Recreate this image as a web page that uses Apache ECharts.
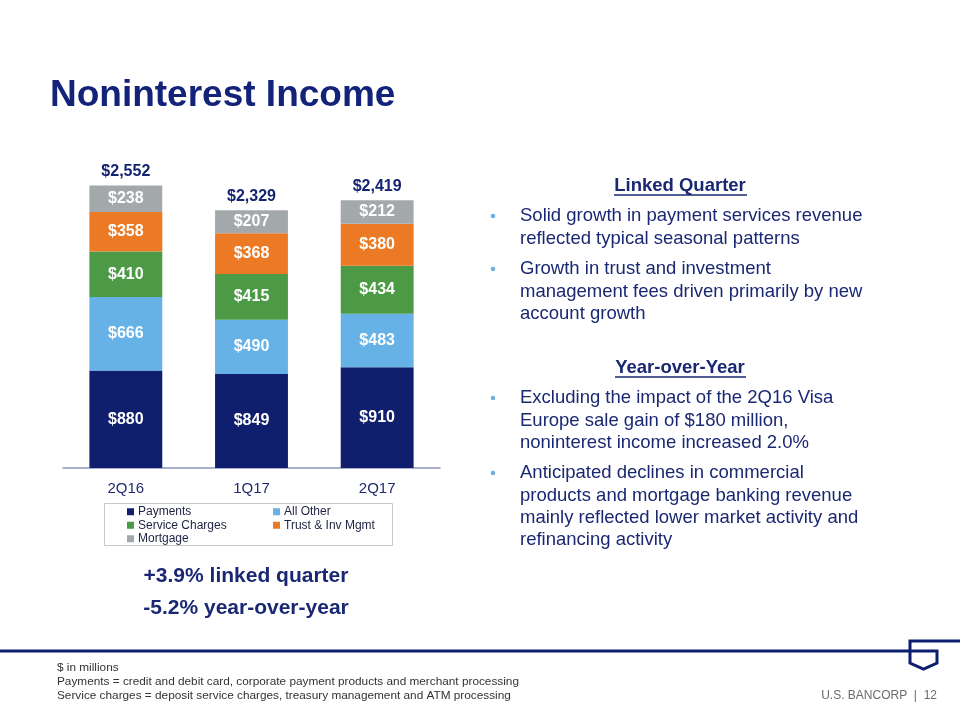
<!DOCTYPE html>
<html>
<head>
<meta charset="utf-8">
<script src="https://cdn.jsdelivr.net/npm/echarts@6/dist/echarts.min.js"></script>
<style>html,body{margin:0;padding:0;background:#fff}#c{width:960px;height:720px}</style>
</head>
<body>
<div id="c"></div>
<script>
var categories = ['2Q16', '1Q17', '2Q17'];
var payments = [880, 849, 910];
var allOther = [666, 490, 483];
var serviceCharges = [410, 415, 434];
var trustInvMgmt = [358, 368, 380];
var mortgage = [238, 207, 212];
var totals = [2552, 2329, 2419];

var FONT = '"Liberation Sans", Arial, sans-serif';
var NAVY = '#1a2873';
var chart = echarts.init(document.getElementById('c'), null, {renderer: 'canvas'});

function seg(name, data, color) {
  return {
    name: name, type: 'bar', stack: 'total', data: data, barWidth: '58%',
    itemStyle: {color: color},
    label: {show: true, position: 'inside', formatter: function (p) { return '$' + p.value; },
      color: '#fff', fontSize: 16, fontWeight: 'bold', fontFamily: FONT}
  };
}

var bulletText = [
  {y: 216, lines: ['Solid growth in payment services revenue', 'reflected typical seasonal patterns']},
  {y: 269, lines: ['Growth in trust and investment', 'management fees driven primarily by new', 'account growth']},
  {y: 398, lines: ['Excluding the impact of the 2Q16 Visa', 'Europe sale gain of $180 million,', 'noninterest income increased 2.0%']},
  {y: 473, lines: ['Anticipated declines in commercial', 'products and mortgage banking revenue', 'mainly reflected lower market activity and', 'refinancing activity']}
];
var graphics = [
  {type: 'text', left: 50, top: 77, style: {text: 'Noninterest Income', font: 'bold 37px ' + FONT, fill: '#13237a'}},
  {type: 'rect', shape: {x: 104.5, y: 503.5, width: 288, height: 42}, style: {fill: 'none', stroke: '#c8c8c8', lineWidth: 1}},
  {type: 'text', x: 246, y: 576, style: {text: '+3.9% linked quarter', font: 'bold 21px ' + FONT, fill: NAVY, align: 'center', verticalAlign: 'middle'}},
  {type: 'text', x: 246, y: 608, style: {text: '-5.2% year-over-year', font: 'bold 21px ' + FONT, fill: NAVY, align: 'center', verticalAlign: 'middle'}},
  {type: 'text', x: 680, y: 186, style: {text: 'Linked Quarter', font: 'bold 18.5px ' + FONT, fill: NAVY, align: 'center', verticalAlign: 'middle'}},
  {type: 'line', shape: {x1: 614, y1: 195, x2: 747, y2: 195}, style: {stroke: NAVY, lineWidth: 1.5}},
  {type: 'text', x: 680, y: 368, style: {text: 'Year-over-Year', font: 'bold 18.5px ' + FONT, fill: NAVY, align: 'center', verticalAlign: 'middle'}},
  {type: 'line', shape: {x1: 615, y1: 377, x2: 746, y2: 377}, style: {stroke: NAVY, lineWidth: 1.5}},
  // footer line and logo
  {type: 'line', shape: {x1: 0, y1: 651, x2: 911, y2: 651}, style: {stroke: '#0c1f6e', lineWidth: 3}},
  {type: 'polyline', shape: {points: [[960, 641], [910, 641], [910, 663], [923.5, 669], [937, 663], [937, 651], [910, 651]]}, style: {fill: 'none', stroke: '#0c1f6e', lineWidth: 3}},
  {type: 'text', x: 57, y: 661, style: {text: '$ in millions\nPayments = credit and debit card, corporate payment products and merchant processing\nService charges = deposit service charges, treasury management and ATM processing', font: '11.8px ' + FONT, fill: '#333', lineHeight: 14}},
  {type: 'text', x: 937, y: 696, style: {text: 'U.S. BANCORP  |  12', font: '12px ' + FONT, fill: '#6b6b6b', align: 'right', verticalAlign: 'middle'}}
];
bulletText.forEach(function (b) {
  graphics.push({type: 'circle', shape: {cx: 493, cy: b.y, r: 2.3}, style: {fill: '#6fb0e0'}});
  graphics.push({type: 'text', x: 520, y: b.y - 11, style: {text: b.lines.join('\n'), font: '18.5px ' + FONT, fill: NAVY, lineHeight: 22.3}});
});

var legendCommon = {
  orient: 'vertical', top: 500, itemWidth: 7, itemHeight: 7, itemGap: 0,
  icon: 'rect', selectedMode: false,
  textStyle: {fontSize: 12, fontFamily: FONT, color: '#1e2240', padding: [0, 0, 0, -1], lineHeight: 13.5, height: 13.5}
};

chart.setOption({
  animation: false,
  backgroundColor: '#fff',
  grid: {left: 63, right: 520, top: 136, bottom: 252},
  legend: [
    Object.assign({left: 122, data: ['Payments', 'Service Charges', 'Mortgage']}, legendCommon),
    Object.assign({left: 268, data: ['All Other', 'Trust & Inv Mgmt']}, legendCommon)
  ],
  xAxis: {
    type: 'category', data: categories,
    axisLine: {lineStyle: {color: '#8d97bd', width: 1.5}},
    axisTick: {show: false},
    axisLabel: {color: '#1f2a6e', fontSize: 15, fontFamily: FONT, margin: 13}
  },
  yAxis: {type: 'value', min: 0, max: 3000, show: false, splitLine: {show: false}},
  series: [
    seg('Payments', payments, '#101f6d'),
    seg('All Other', allOther, '#66b2e6'),
    seg('Service Charges', serviceCharges, '#4c9a45'),
    seg('Trust & Inv Mgmt', trustInvMgmt, '#ec7a25'),
    seg('Mortgage', mortgage, '#a3a8ab'),
    {name: 'Total', type: 'bar', stack: 'total', data: totals.map(function () { return 0; }), barWidth: '58%',
      itemStyle: {color: 'transparent'},
      label: {show: true, position: 'top', distance: 6, formatter: function (p) { return '$' + totals[p.dataIndex].toLocaleString('en-US'); },
        color: '#152472', fontSize: 16, fontWeight: 'bold', fontFamily: FONT}}
  ],
  graphic: graphics
});
</script>
</body>
</html>
